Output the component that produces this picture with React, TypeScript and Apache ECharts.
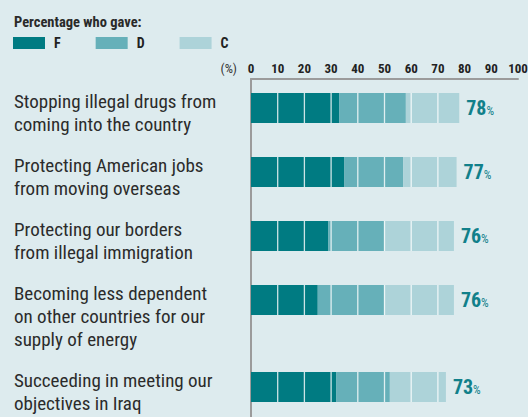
import React, { useEffect, useRef } from 'react';
import * as echarts from 'echarts';

const categories = [
  'Stopping illegal drugs from\ncoming into the country',
  'Protecting American jobs\nfrom moving overseas',
  'Protecting our borders\nfrom illegal immigration',
  'Becoming less dependent\non other countries for our\nsupply of energy',
  'Succeeding in meeting our\nobjectives in Iraq',
];
const gradeF = [33, 35, 29, 25, 32];
const gradeD = [25, 22, 21, 25, 20];
const gradeC = [20, 20, 26, 26, 21];
const totals = [78, 77, 76, 76, 73];
const tickLabels = ['0', '10', '20', '30', '40', '50', '60', '70', '80', '90', '100'];
const seriesNames = ['F', 'D', 'C'];

// layout: which rows go in which grid (the last row sits lower)
const rowGroups: [number, number][] = [[0, 4], [4, 5]];

const FONT = "'Liberation Sans Narrow', 'Roboto Condensed', Roboto, sans-serif";
const COLORS = ['#007b82', '#66b0b9', '#add3d9'];
const AXIS_COLOR = '#9b9b9b';

function buildOption(): any {
  const values = [gradeF, gradeD, gradeC];
  const grids = [
    { left: 251, top: 79, width: 267, bottom: 0, outerBoundsMode: 'none' },
    { left: 251, top: 76, width: 267, height: 256, outerBoundsMode: 'none' },
    { left: 251, top: 355, width: 267, height: 64, outerBoundsMode: 'none' },
  ];
  const xAxis: any[] = [
    {
      gridIndex: 0,
      type: 'value',
      position: 'top',
      min: 0,
      max: 100,
      interval: 10,
      axisLine: { show: true, lineStyle: { color: AXIS_COLOR, width: 2 } },
      axisTick: { show: false },
      splitLine: { show: false },
      axisLabel: {
        margin: 4,
        fontFamily: FONT,
        fontWeight: 'bold',
        fontSize: 13,
        color: '#222',
        formatter: (v: number) => tickLabels[Math.round(v / 10)] ?? String(v),
      },
      name: '(%)',
      nameLocation: 'start',
      nameGap: 14,
      nameTextStyle: {
        fontFamily: FONT,
        fontSize: 13,
        color: '#333',
        verticalAlign: 'bottom',
        padding: [0, 0, 4, 0],
      },
    },
  ];
  const yAxis: any[] = [
    {
      gridIndex: 0,
      type: 'category',
      data: [''],
      axisLine: { show: true, lineStyle: { color: AXIS_COLOR, width: 2 } },
      axisTick: { show: false },
      axisLabel: { show: false },
    },
  ];
  const series: any[] = [];
  rowGroups.forEach(([a, b], gi) => {
    const g = gi + 1;
    xAxis.push({ gridIndex: g, type: 'value', min: 0, max: 100, show: false });
    yAxis.push({
      gridIndex: g,
      type: 'category',
      inverse: true,
      data: categories.slice(a, b),
      axisLine: { show: false },
      axisTick: { show: false },
      axisLabel: {
        interval: 0,
        align: 'left',
        margin: 237,
        verticalAlign: 'top',
        lineHeight: 23,
        padding: [-18, 0, 18, 0],
        fontFamily: FONT,
        fontSize: 19,
        color: '#2b2b2b',
      },
    });
    seriesNames.forEach((name, k) => {
      series.push({
        type: 'bar',
        name,
        xAxisIndex: g,
        yAxisIndex: g,
        stack: 'total' + g,
        barWidth: 30,
        data: values[k].slice(a, b),
        itemStyle: { color: COLORS[k] },
        label:
          k === 2
            ? {
                show: true,
                position: 'right',
                distance: 7,
                formatter: (p: any) => `{n|${totals[a + p.dataIndex]}}{p|%}`,
                rich: {
                  n: { fontFamily: FONT, fontWeight: 'bold', fontSize: 20, color: '#11808a' },
                  p: { fontFamily: FONT, fontSize: 12, color: '#11808a', padding: [5, 0, 0, 0] },
                },
              }
            : { show: false },
      });
    });
    series.push({
      type: 'custom',
      xAxisIndex: g,
      yAxisIndex: g,
      z: 5,
      silent: true,
      encode: { x: 0, y: 1 },
      data: totals.slice(a, b).map((t, i) => [t, i]),
      renderItem: (params: any, api: any) => {
        const total = api.value(0) as number;
        const cat = api.value(1);
        const children: any[] = [];
        for (let t = 10; t < total; t += 10) {
          const p = api.coord([t, cat]);
          children.push({
            type: 'line',
            shape: { x1: p[0], y1: p[1] - 15, x2: p[0], y2: p[1] + 15 },
            style: { stroke: 'rgba(255,255,255,0.8)', lineWidth: 1.3 },
          });
        }
        return { type: 'group', children };
      },
    });
  });

  return {
    animation: false,
    backgroundColor: '#ddebee',
    title: {
      text: 'Percentage who gave:',
      left: 14,
      top: 15,
      padding: 0,
      textStyle: { fontFamily: FONT, fontWeight: 'bold', fontSize: 14.5, color: '#2a2a2a' },
    },
    legend: {
      left: 13,
      top: 36,
      padding: 0,
      itemWidth: 32,
      itemHeight: 12,
      itemGap: 35,
      icon: 'rect',
      selectedMode: false,
      data: seriesNames,
      textStyle: {
        fontFamily: FONT,
        fontWeight: 'bold',
        fontSize: 14,
        color: '#222',
        padding: [0, 0, 0, 4],
      },
    },
    grid: grids,
    xAxis,
    yAxis,
    series,
  };
}

export default function App() {
  const ref = useRef<HTMLDivElement>(null);
  useEffect(() => {
    if (!ref.current) return;
    const chart = echarts.init(ref.current, undefined, { renderer: 'svg' });
    chart.setOption(buildOption());
    return () => chart.dispose();
  }, []);
  return (
    <div
      ref={ref}
      style={{ position: 'fixed', left: 0, top: 0, width: 528, height: 417 }}
    />
  );
}
